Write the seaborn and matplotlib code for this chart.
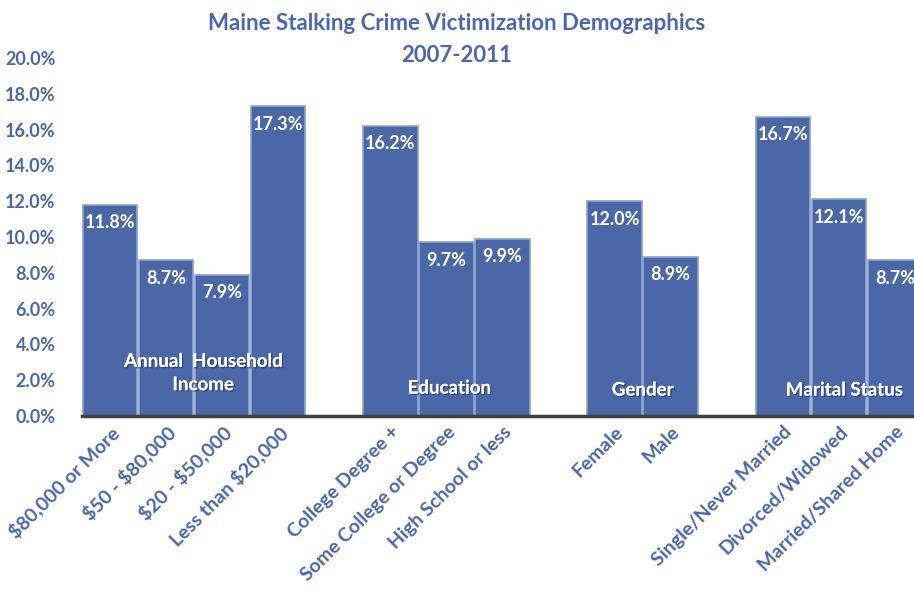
import matplotlib
matplotlib.use('Agg')
import matplotlib.pyplot as plt
import matplotlib.patheffects as pe
import seaborn as sns
import pandas as pd

# data
categories = ['$80,000 or More', '$50 - $80,000', '$20 - $50,000', 'Less than $20,000',
              'College Degree +', 'Some College or Degree', 'High School or less',
              'Female', 'Male',
              'Single/Never Married', 'Divorced/Widowed', 'Married/Shared Home']
values = [11.8, 8.7, 7.9, 17.3, 16.2, 9.7, 9.9, 12.0, 8.9, 16.7, 12.1, 8.7]
groups = ['Annual  Household\nIncome'] * 4 + ['Education'] * 3 + ['Gender'] * 2 + ['Marital Status'] * 3

# blank slots between the groups
order = categories[:4] + [' '] + categories[4:7] + ['  '] + categories[7:9] + ['   '] + categories[9:]

df = pd.DataFrame({'cat': categories, 'pct': values, 'grp': groups})

sns.set_style('white')
plt.rcParams['font.family'] = ['Lato', 'DejaVu Sans']
plt.rcParams['text.parse_math'] = False

blue = '#4A66AC'
bar_col = '#4A67A8'
txt_col = '#4A66AC'

fig = plt.figure(figsize=(9.14, 5.92), dpi=100)
ax = fig.add_axes([82 / 914, (592 - 416) / 592, (914 - 82) / 914, (416 - 58) / 592])

sns.barplot(data=df, x='cat', y='pct', order=order, color=bar_col, width=0.97,
            edgecolor='#8EA2CE', linewidth=1.2, saturation=1, ax=ax)

ax.set_xlim(-0.5, 14.34)
ax.set_ylim(0, 20)
ax.set_yticks(range(0, 21, 2))
ax.set_yticklabels([f'{t:.1f}%' for t in range(0, 21, 2)],
                   fontsize=13, fontweight='bold', color=txt_col)
ax.set_xlabel('')
ax.set_ylabel('')
ax.tick_params(axis='y', length=0, pad=19)
ax.tick_params(axis='x', length=0, pad=5)
plt.setp(ax.get_xticklabels(), rotation=45, ha='right', rotation_mode='anchor',
         fontsize=14, fontweight='bold', color=txt_col)

for s in ['top', 'right', 'left']:
    ax.spines[s].set_visible(False)
ax.spines['bottom'].set_color('#404040')
ax.spines['bottom'].set_linewidth(2.5)

# value labels
for i, name in enumerate(order):
    if name.strip() == '':
        continue
    v = values[categories.index(name)]
    ax.text(i, v - 1.0, f'{v:.1f}%', ha='center', va='center', color='white',
            fontsize=13, fontweight='bold')

# group labels inside bars
shadow = [pe.withSimplePatchShadow(offset=(1, -1), shadow_rgbFace='#20305a', alpha=0.6), pe.Normal()]
group_pos = [(1.66, 2.4, 'Annual  Household\nIncome'), (6.05, 1.56, 'Education'),
             (9.5, 1.45, 'Gender'), (13.1, 1.45, 'Marital Status')]
for x, y, lab in group_pos:
    ax.text(x, y, lab, ha='center', va='center', color='white', fontsize=13.5,
            fontweight='bold', linespacing=1.45, path_effects=shadow)

fig.text(0.5, 1 - 13 / 592, 'Maine Stalking Crime Victimization Demographics\n2007-2011',
         ha='center', va='top', fontsize=16, fontweight='bold', color=blue, linespacing=1.65)

fig.savefig('out.png', dpi=100)
